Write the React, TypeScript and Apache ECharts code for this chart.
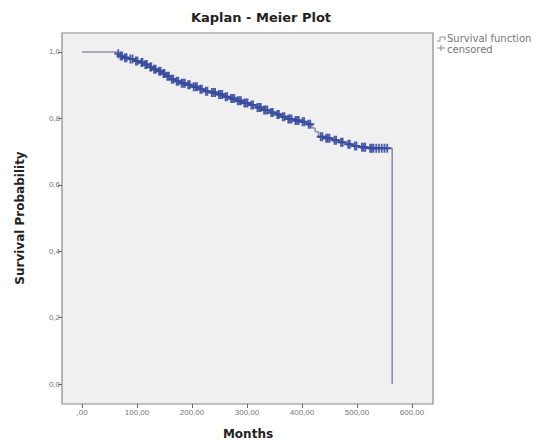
import React, { useEffect, useRef } from "react";
import * as echarts from "echarts";

const eventTimes = [0, 64, 68, 75, 85, 95, 105, 112, 120, 128, 136, 145, 152, 160, 170, 178, 190, 200, 212, 222, 233, 245, 258, 268, 280, 292, 305, 316, 328, 340, 352, 362, 372, 385, 398, 408, 418, 424, 430, 440, 455, 468, 480, 492, 505, 520, 564];
const eventSurv = [1.0, 0.995, 0.988, 0.983, 0.979, 0.973, 0.968, 0.962, 0.955, 0.948, 0.942, 0.935, 0.927, 0.918, 0.912, 0.906, 0.901, 0.895, 0.888, 0.882, 0.878, 0.872, 0.865, 0.86, 0.853, 0.846, 0.84, 0.833, 0.825, 0.818, 0.812, 0.805, 0.798, 0.794, 0.79, 0.782, 0.771, 0.76, 0.745, 0.74, 0.734, 0.728, 0.722, 0.717, 0.713, 0.71, 0.0];
const censoredTimes = [66, 70, 73, 78, 81, 88, 92, 98, 101, 108, 110, 115, 118, 124, 126, 131, 134, 140, 143, 148, 150, 155, 158, 163, 166, 172, 175, 181, 184, 187, 193, 196, 203, 206, 209, 215, 218, 225, 228, 236, 239, 242, 249, 252, 255, 261, 264, 271, 274, 277, 283, 286, 289, 295, 298, 301, 308, 311, 319, 322, 325, 331, 334, 337, 344, 347, 355, 358, 365, 368, 375, 378, 381, 388, 391, 394, 401, 404, 412, 415, 434, 437, 444, 447, 450, 459, 462, 471, 474, 484, 487, 496, 499, 509, 512, 515, 524, 527, 530, 535, 540, 545, 550, 555];
const xTicks = [0, 100, 200, 300, 400, 500, 600];
const yTicks = [0, 0.2, 0.4, 0.6, 0.8, 1.0];

const survAt = (t: number) => {
  let s = eventSurv[0];
  for (let i = 0; i < eventTimes.length; i++) {
    if (eventTimes[i] <= t) s = eventSurv[i];
  }
  return s;
};

const PLUS = "path://M3.5,0h2v9h-2zM0,3.5h9v2h-9z";
const FONT = "'Liberation Sans', Arial, sans-serif";
const BFONT = "'DejaVu Sans', sans-serif";

export default function App() {
  const ref = useRef<HTMLDivElement>(null);
  useEffect(() => {
    if (!ref.current) return;
    const chart = echarts.init(ref.current, undefined, { renderer: "svg" });
    const stepData = eventTimes.map((t, i) => [t, eventSurv[i]]);
    const censData = censoredTimes.map((t) => [t, survAt(t)]);
    chart.setOption({
      animation: false,
      backgroundColor: "#ffffff",
      grid: {
        left: 62,
        right: 105,
        top: 33,
        bottom: 40,
        containLabel: false,
        show: true,
        backgroundColor: "#f0f0f0",
        borderColor: "#8a8a8a",
        borderWidth: 1.2,
      },
      xAxis: {
        type: "value",
        min: -36.4,
        max: 638.2,
        axisLine: { show: false, onZero: false },
        axisTick: { show: true, length: 4, customValues: xTicks, lineStyle: { color: "#666", width: 1 } },
        axisLabel: {
          color: "#777",
          fontSize: 8,
          fontFamily: FONT,
          margin: 4,
          customValues: xTicks,
          formatter: (v: number) => (v === 0 ? ",00" : v.toFixed(2).replace(".", ",")),
        },
        splitLine: { show: false },
      },
      yAxis: {
        type: "value",
        min: -0.0602,
        max: 1.0572,
        axisLine: { show: false, onZero: false },
        axisTick: { show: true, length: 4, customValues: yTicks, lineStyle: { color: "#666", width: 1 } },
        axisLabel: {
          color: "#777",
          fontSize: 8,
          fontFamily: FONT,
          margin: 2,
          customValues: yTicks,
          formatter: (v: number) => v.toFixed(1).replace(".", ","),
        },
        splitLine: { show: false },
      },
      graphic: [
        {
          type: "text",
          x: 261,
          y: 17,
          style: { text: "Kaplan - Meier Plot", font: `bold 13px ${BFONT}`, fill: "#222", textAlign: "center", textVerticalAlign: "middle" },
        },
        {
          type: "text",
          x: 248,
          y: 434,
          style: { text: "Months", font: `bold 12px ${BFONT}`, fill: "#222", textAlign: "center", textVerticalAlign: "middle" },
        },
        {
          type: "text",
          x: 20,
          y: 218,
          rotation: Math.PI / 2,
          style: { text: "Survival Probability", font: `bold 12px ${BFONT}`, fill: "#222", textAlign: "center", textVerticalAlign: "middle" },
        },
        {
          type: "polyline",
          shape: { points: [[437, 41], [440, 41], [440, 37], [445, 37], [445, 40]] },
          style: { stroke: "#8a8f9e", lineWidth: 1, fill: "none" },
        },
        {
          type: "line",
          shape: { x1: 437, y1: 48, x2: 445, y2: 48 },
          style: { stroke: "#8a8f9e", lineWidth: 1 },
        },
        {
          type: "line",
          shape: { x1: 441, y1: 45, x2: 441, y2: 51 },
          style: { stroke: "#8a8f9e", lineWidth: 1 },
        },
        {
          type: "text",
          x: 447,
          y: 38,
          style: { text: "Survival function", font: `10px ${BFONT}`, fill: "#777", textVerticalAlign: "middle" },
        },
        {
          type: "text",
          x: 447,
          y: 49,
          style: { text: "censored", font: `10px ${BFONT}`, fill: "#777", textVerticalAlign: "middle" },
        },
      ],
      series: [
        {
          name: "Survival function",
          type: "line",
          z: 5,
          step: "end",
          data: stepData,
          showSymbol: false,
          clip: false,
          lineStyle: { color: "#8d93ab", width: 1.6 },
        },
        {
          name: "censored",
          type: "scatter",
          z: 6,
          data: censData,
          symbol: PLUS,
          symbolSize: [8, 9],
          clip: false,
          itemStyle: { color: "#364a9f", opacity: 0.9 },
        },
      ],
    });
    return () => chart.dispose();
  }, []);
  return <div ref={ref} style={{ position: "fixed", left: 0, top: 0, width: 538, height: 444 }} />;
}
